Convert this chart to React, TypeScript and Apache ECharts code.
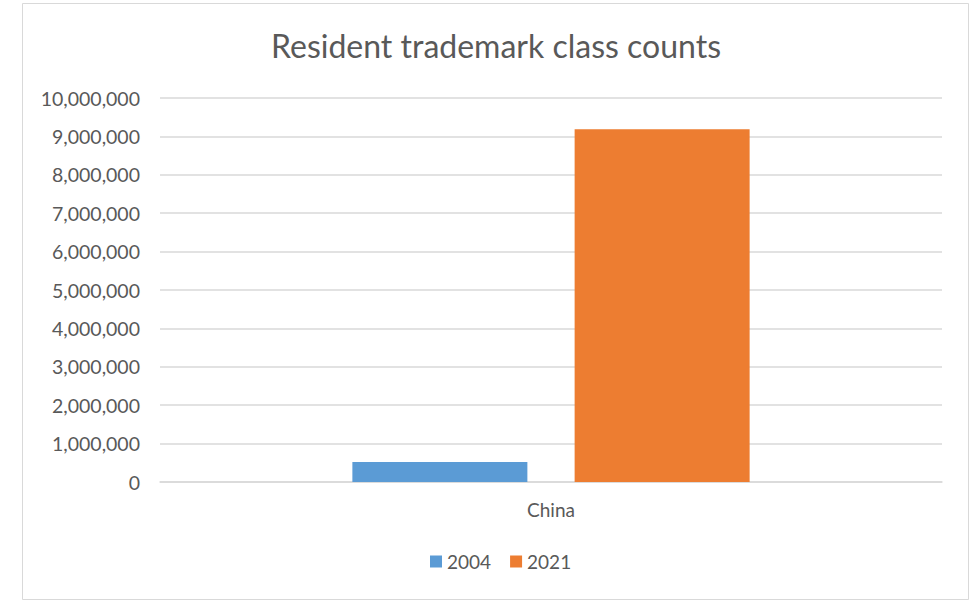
import React, { useEffect, useRef } from "react";
import * as echarts from "echarts";

const categories = ["China"];
const seriesNames = ["2004", "2021"];
const values2004 = [520000];
const values2021 = [9185000];
const seriesColors = ["#5B9BD5", "#ED7D31"];
const titleText = "Resident trademark class counts";

const FONT = "Lato, 'Open Sans', sans-serif";
const TEXT = "#595959";

export default function App() {
  const ref = useRef<HTMLDivElement>(null);
  useEffect(() => {
    if (!ref.current) return;
    const chart = echarts.init(ref.current, null, { renderer: "svg" });
    const seriesData = [values2004, values2021];
    chart.setOption({
      animation: false,
      backgroundColor: "#ffffff",
      textStyle: { fontFamily: FONT },
      title: {
        text: titleText,
        left: 491,
        textAlign: "center",
        top: 24,
        textStyle: { fontFamily: FONT, fontSize: 32, fontWeight: "normal", color: TEXT },
      },
      graphic: [
        {
          type: "rect",
          shape: { x: 22.5, y: 3.5, width: 946, height: 596 },
          style: { fill: "none", stroke: "#D9D9D9", lineWidth: 1 },
          silent: true,
        },
      ],
      legend: {
        data: seriesNames,
        left: 425,
        top: 547,
        icon: "rect",
        itemWidth: 12,
        itemHeight: 12,
        itemGap: 19,
        textStyle: { fontFamily: FONT, fontSize: 19, color: TEXT, padding: [0, 0, 0, 0] },
      },
      grid: { left: 160, right: 32, top: 98, bottom: 118, containLabel: false },
      xAxis: {
        type: "category",
        data: categories,
        axisLine: { show: true, lineStyle: { color: "#D9D9D9", width: 1.5 } },
        axisTick: { show: false },
        axisLabel: { fontFamily: FONT, fontSize: 19, color: TEXT, margin: 18 },
      },
      yAxis: {
        type: "value",
        min: 0,
        max: 10000000,
        interval: 1000000,
        axisLine: { show: false },
        axisTick: { show: false },
        splitLine: { lineStyle: { color: "#D9D9D9", width: 1.5 } },
        axisLabel: {
          fontFamily: FONT,
          fontSize: 19.5,
          color: TEXT,
          margin: 20,
          formatter: (v: number) => v.toLocaleString("en-US"),
        },
      },
      series: seriesNames.map((name, i) => ({
        name,
        type: "bar",
        data: seriesData[i],
        barWidth: 175,
        barGap: "27%",
        itemStyle: { color: seriesColors[i] },
      })),
    });
    return () => chart.dispose();
  }, []);
  return (
    <div
      ref={ref}
      style={{ position: "fixed", left: 0, top: 0, width: 974, height: 600 }}
    />
  );
}
